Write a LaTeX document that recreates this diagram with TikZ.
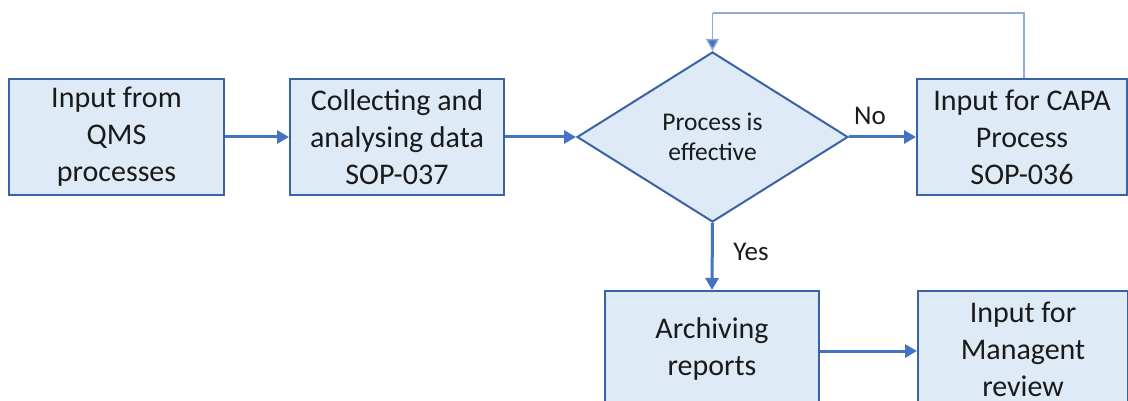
\documentclass[tikz,border=0pt]{standalone}
\usepackage{fontspec}
\setmainfont{Carlito}
\usetikzlibrary{shapes.geometric,arrows.meta}
\definecolor{boxfill}{HTML}{DEEBF7}
\definecolor{boxline}{HTML}{3A62A7}
\definecolor{arrowc}{HTML}{4472C4}
\definecolor{fbc}{HTML}{8FAADC}
\definecolor{txt}{HTML}{1A1A1A}
\tikzset{
  procbox/.style={draw=boxline, fill=boxfill, line width=2pt, rectangle, inner sep=0pt,
    minimum height=116pt, align=center, text=txt, font=\fontsize{30}{37}\selectfont},
  decbox/.style={draw=boxline, fill=boxfill, line width=2pt, diamond, inner sep=0pt,
    minimum width=271pt, minimum height=170pt, align=center, text=txt, font=\fontsize{25.5}{30}\selectfont},
  flow/.style={draw=arrowc, line width=3pt, -{Triangle[length=12pt,width=13pt]}},
  fback/.style={draw=fbc, line width=1.5pt, -{Triangle[length=12pt,width=13pt]}, arrowc},
  lbl/.style={text=txt, font=\fontsize{27}{32}\selectfont, inner sep=0pt}
}
\begin{document}
\begin{tikzpicture}[x=1pt,y=-1pt]
\useasboundingbox (0,0) rectangle (1128,401);
\clip (0,0) rectangle (1128,401);
\node[procbox, minimum width=215pt] (qms) at (116.5,137) {Input from\\QMS\\processes};
\node[procbox, minimum width=214pt] (collect) at (397,137) {Collecting and\\analysing data\\SOP-037};
\node[decbox] (dec) at (712.5,137) {Process is\\effective};
\node[procbox, minimum width=210pt] (capa) at (1022,137) {Input for CAPA\\Process\\SOP-036};
\node[procbox, minimum width=214pt] (arch) at (712,349) {Archiving\\reports};
\node[procbox, minimum width=210pt] (mgmt) at (1023,349) {Input for\\Managent\\review};
\coordinate (fbR) at (1024,13);
\coordinate (fbL) at (712.5,13);
\draw[flow] (qms.east) -- (collect.west);
\draw[flow] (collect.east) -- (dec.west);
\draw[flow] (dec.east) -- (capa.west);
\draw[flow] (dec.south) -- (arch.north);
\draw[flow] (arch.east |- 0,351) -- (mgmt.west |- 0,351);
\draw[draw=fbc, line width=1.5pt] (capa.north -| fbR) -- (fbR) -- (fbL);
\draw[draw=fbc, line width=1.5pt, -{Triangle[length=12pt,width=13pt,fill=arrowc]}] (fbL) -- (dec.north);
\node[lbl] (no) at (870,116) {No};
\node[lbl] (yes) at (751,252) {Yes};
\end{tikzpicture}
\end{document}
